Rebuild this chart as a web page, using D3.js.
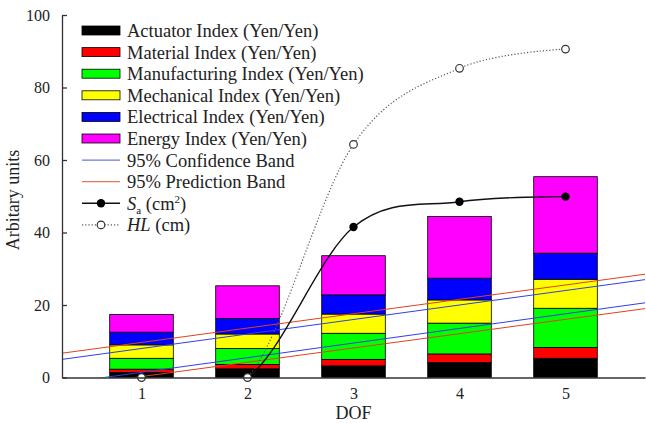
<!DOCTYPE html>
<html lang="en">
<head>
    <meta charset="UTF-8">
    <title>DOF chart</title>
    <script src="https://cdn.jsdelivr.net/npm/d3@7/dist/d3.min.js" charset="utf-8"></script>
    <style>
        body { margin: 0; background: #fff; }
        text { font-family: "Liberation Serif", "DejaVu Serif", serif; }
    </style>
</head>
<body>
    <script>

        // data
        var dof = [1, 2, 3, 4, 5];
        var seriesNames = ["Actuator Index (Yen/Yen)", "Material Index (Yen/Yen)", "Manufacturing Index (Yen/Yen)",
            "Mechanical Index (Yen/Yen)", "Electrical Index (Yen/Yen)", "Energy Index (Yen/Yen)"];
        var seriesColors = ["#000000", "#ff0000", "#00ff00", "#ffff00", "#0000ff", "#ff00ff"];
        var actuator = [1.4, 2.4, 3.2, 4.1, 5.3];
        var material = [0.9, 1.2, 1.8, 2.4, 3.0];
        var manufacturing = [3.0, 4.4, 7.2, 8.5, 10.8];
        var mechanical = [3.7, 4.0, 5.3, 6.4, 8.0];
        var electrical = [3.5, 4.3, 5.3, 6.0, 7.2];
        var energy = [4.9, 9.0, 10.8, 17.0, 21.1];

        var sa = [0, 0, 41.5, 48.5, 49.9];   // S_a (cm^2)
        var hl = [0, 0, 64.3, 85.3, 90.6];   // HL (cm)

        // straight band lines, values at both ends of the x axis
        var bandX = [0.25, 5.75];
        var confUpper = [5.0, 27.0];
        var confLower = [-1.6, 20.6];
        var predUpper = [6.7, 28.5];
        var predLower = [-2.7, 19.0];

        var yTicks = [0, 20, 40, 60, 80, 100];
        var xTicks = [1, 2, 3, 4, 5];

        // canvas
        var width = 646;
        var height = 423;
        var svg = d3.select("body")
            .append("svg")
            .attr("width", width)
            .attr("height", height);

        var plotL = 62, plotR = 645, plotT = 15, plotB = 377.5;

        var x = d3.scaleLinear().domain([0.25, 5.75]).range([plotL, plotR]);
        var y = d3.scaleLinear().domain([0, 100]).range([plotB, plotT]);

        svg.append("clipPath").attr("id", "plot")
            .append("rect")
            .attr("x", plotL).attr("y", 0)
            .attr("width", plotR - plotL).attr("height", plotB);

        // stacked bars
        var series = [actuator, material, manufacturing, mechanical, electrical, energy];
        var rows = dof.map(function (d, i) {
            var r = {dof: d};
            series.forEach(function (s, k) { r["s" + k] = s[i]; });
            return r;
        });
        var stack = d3.stack().keys(series.map(function (s, k) { return "s" + k; }))(rows);
        var barW = 0.6;

        svg.append("g").selectAll("g")
            .data(stack)
            .enter()
            .append("g")
            .attr("fill", function (d, k) { return seriesColors[k]; })
            .selectAll("rect")
            .data(function (d) { return d; })
            .enter()
            .append("rect")
            .attr("x", function (d) { return x(d.data.dof - barW / 2); })
            .attr("width", function (d) { return x(d.data.dof + barW / 2) - x(d.data.dof - barW / 2); })
            .attr("y", function (d) { return y(d[1]); })
            .attr("height", function (d) { return y(d[0]) - y(d[1]); })
            .attr("stroke", "#000")
            .attr("stroke-width", 0.8);

        // band lines
        var bands = [
            {v: confUpper, c: "#2f3fe6"}, {v: confLower, c: "#2f3fe6"},
            {v: predUpper, c: "#e0401e"}, {v: predLower, c: "#e0401e"}
        ];
        var bandLine = d3.line()
            .x(function (d, i) { return x(bandX[i]); })
            .y(function (d) { return y(d); });
        svg.append("g").attr("clip-path", "url(#plot)")
            .selectAll("path")
            .data(bands)
            .enter()
            .append("path")
            .attr("d", function (d) { return bandLine(d.v); })
            .attr("fill", "none")
            .attr("stroke", function (d) { return d.c; })
            .attr("stroke-width", 1);

        // curves
        var curve = d3.line()
            .x(function (d, i) { return x(dof[i]); })
            .y(function (d) { return y(d); })
            .curve(d3.curveCatmullRom.alpha(0));

        var curves = svg.append("g").attr("clip-path", "url(#plot)");
        curves.append("path")
            .attr("d", curve(sa))
            .attr("fill", "none")
            .attr("stroke", "#111")
            .attr("stroke-width", 1.4);
        curves.append("path")
            .attr("d", curve(hl))
            .attr("fill", "none")
            .attr("stroke", "#555")
            .attr("stroke-width", 1.2)
            .attr("stroke-dasharray", "1.2,2");

        svg.append("g").selectAll("circle")
            .data(sa)
            .enter()
            .append("circle")
            .attr("cx", function (d, i) { return x(dof[i]); })
            .attr("cy", function (d) { return y(d); })
            .attr("r", 4.2)
            .attr("fill", "#000");

        svg.append("g").selectAll("circle")
            .data(hl)
            .enter()
            .append("circle")
            .attr("cx", function (d, i) { return x(dof[i]); })
            .attr("cy", function (d) { return y(d); })
            .attr("r", 3.8)
            .attr("fill", "#fff")
            .attr("stroke", "#333")
            .attr("stroke-width", 1.2);

        // axes
        var yAxis = svg.append("g")
            .attr("transform", "translate(" + plotL + ",0)")
            .call(d3.axisLeft(y).tickValues(yTicks).tickSizeInner(-5).tickSizeOuter(0).tickPadding(12));
        var xAxis = svg.append("g")
            .attr("transform", "translate(0," + plotB + ")")
            .call(d3.axisBottom(x).tickValues(xTicks).tickFormat(d3.format("d")).tickSizeInner(0).tickSizeOuter(0).tickPadding(10));
        [yAxis, xAxis].forEach(function (a) {
            a.select(".domain").attr("stroke", "#333").attr("stroke-width", 1.3);
            a.selectAll("line").attr("stroke", "#333").attr("stroke-width", 1.3);
            a.selectAll("text").attr("font-size", 16).attr("fill", "#222")
                .style("font-family", "'Liberation Serif', serif");
        });

        svg.append("text")
            .attr("transform", "translate(19,200) rotate(-90)")
            .attr("text-anchor", "middle")
            .attr("font-size", 18)
            .attr("fill", "#222")
            .text("Arbitary units");
        svg.append("text")
            .attr("x", (plotL + plotR) / 2)
            .attr("y", 419)
            .attr("text-anchor", "middle")
            .attr("font-size", 18)
            .attr("fill", "#222")
            .text("DOF");

        // legend
        var lg = svg.append("g");
        var rowY = function (i) { return 30.5 + i * 21.6; };
        var lx1 = 82, lx2 = 120, tx = 127, fs = 18.5;

        seriesNames.forEach(function (name, k) {
            lg.append("rect")
                .attr("x", lx1).attr("y", rowY(k) - 4.5)
                .attr("width", lx2 - lx1).attr("height", 9)
                .attr("fill", seriesColors[k])
                .attr("stroke", "#000").attr("stroke-width", 0.8);
            lg.append("text")
                .attr("x", tx).attr("y", rowY(k)).attr("dy", "0.35em")
                .attr("font-size", fs).attr("fill", "#222")
                .text(name);
        });

        var lineItems = [
            {name: "95% Confidence Band", c: "#6a74e0"},
            {name: "95% Prediction Band", c: "#e07a5a"}
        ];
        lineItems.forEach(function (d, j) {
            var yy = rowY(6 + j);
            lg.append("line")
                .attr("x1", lx1).attr("x2", lx2).attr("y1", yy).attr("y2", yy)
                .attr("stroke", d.c).attr("stroke-width", 1.2);
            lg.append("text")
                .attr("x", tx).attr("y", yy).attr("dy", "0.35em")
                .attr("font-size", fs).attr("fill", "#222")
                .text(d.name);
        });

        // S_a
        var ys = rowY(8);
        lg.append("line").attr("x1", lx1).attr("x2", lx2).attr("y1", ys).attr("y2", ys)
            .attr("stroke", "#111").attr("stroke-width", 1.4);
        lg.append("circle").attr("cx", (lx1 + lx2) / 2).attr("cy", ys).attr("r", 4.2).attr("fill", "#000");
        var t1 = lg.append("text").attr("x", tx).attr("y", ys).attr("dy", "0.35em")
            .attr("font-size", fs).attr("fill", "#222");
        t1.append("tspan").attr("font-style", "italic").text("S");
        t1.append("tspan").attr("font-size", 11).attr("dy", "4").text("a");
        t1.append("tspan").attr("dy", "-4").text(" (cm");
        t1.append("tspan").attr("font-size", 11).attr("dy", "-7").text("2");
        t1.append("tspan").attr("dy", "7").text(")");

        // HL
        var yh = rowY(9);
        lg.append("line").attr("x1", lx1).attr("x2", lx2).attr("y1", yh).attr("y2", yh)
            .attr("stroke", "#555").attr("stroke-width", 1.2).attr("stroke-dasharray", "1.2,2");
        lg.append("circle").attr("cx", (lx1 + lx2) / 2).attr("cy", yh).attr("r", 3.8)
            .attr("fill", "#fff").attr("stroke", "#333").attr("stroke-width", 1.2);
        var t2 = lg.append("text").attr("x", tx).attr("y", yh).attr("dy", "0.35em")
            .attr("font-size", fs).attr("fill", "#222");
        t2.append("tspan").attr("font-style", "italic").text("HL");
        t2.append("tspan").text(" (cm)");

    </script>
</body>
</html>
